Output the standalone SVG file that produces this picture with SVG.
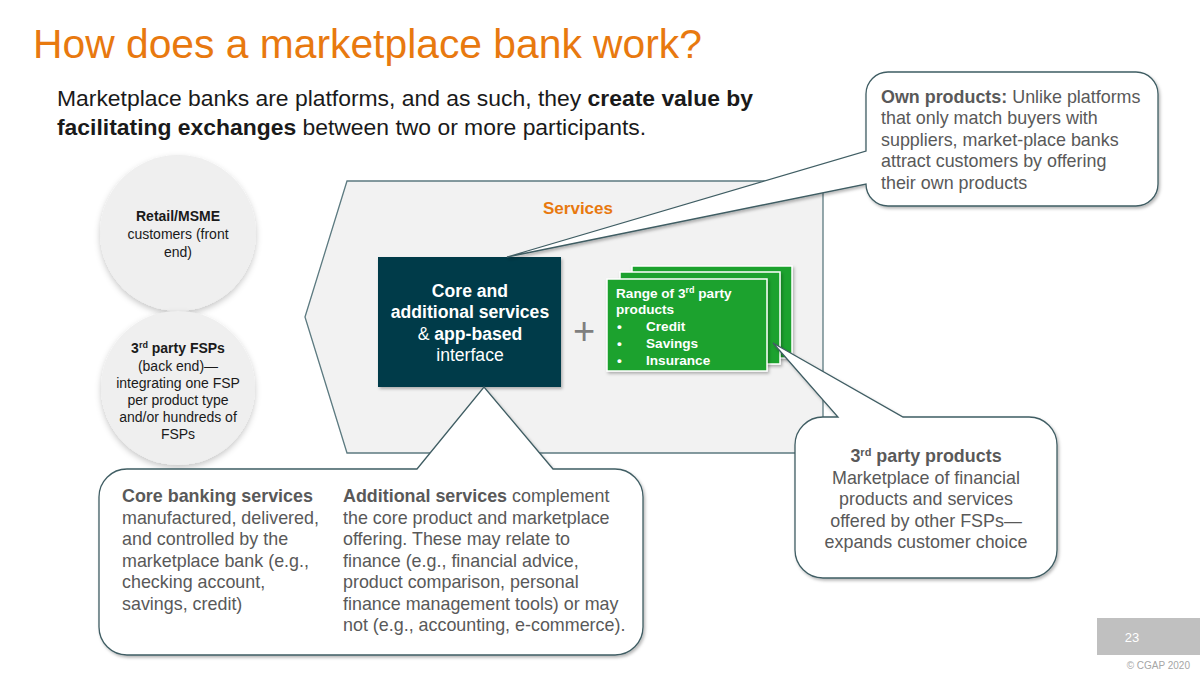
<svg xmlns="http://www.w3.org/2000/svg" width="1200" height="674" viewBox="0 0 1200 674">
<defs>
<filter id="sh" x="-10%" y="-10%" width="130%" height="130%">
<feDropShadow dx="1.5" dy="2" stdDeviation="1.8" flood-color="#000" flood-opacity="0.28"/>
</filter>
<filter id="shc" x="-15%" y="-15%" width="130%" height="135%">
<feDropShadow dx="0" dy="3" stdDeviation="3" flood-color="#000" flood-opacity="0.22"/>
</filter>
</defs>
<style>
text{font-family:"Liberation Sans",Arial,sans-serif}
.b{font-weight:bold}
.bub{fill:#ffffff;stroke:#3f5d63;stroke-width:1.3;stroke-linejoin:miter}
.bt{font-size:17.9px;fill:#595959}
.ct{font-size:14px;fill:#1a1a1a;text-anchor:middle}
.circ{fill:#efefef}
.card{fill:#1fa22f;stroke:#ffffff;stroke-width:1.5}
.gt{font-size:13.6px;fill:#ffffff;font-weight:bold}
.wt{font-size:17.6px;fill:#ffffff;text-anchor:middle}
</style>
<rect width="1200" height="674" fill="#ffffff"/>

<text x="33" y="58" font-size="40.8" fill="#e8790f">How does a marketplace bank work?</text>
<text x="57" y="106" font-size="22.9" fill="#1a1a1a">Marketplace banks are platforms, and as such, they <tspan class="b">create value by</tspan></text>
<text x="57" y="135" font-size="22.9" fill="#1a1a1a"><tspan class="b">facilitating exchanges</tspan> between two or more participants.</text>

<g id="services">
<polygon points="305,317 347,181 823,181 823,453 347,453" fill="#f2f2f2" stroke="#5c7a80" stroke-width="1.3"/>
<text x="578" y="214" font-size="17" class="b" fill="#e8790f" text-anchor="middle">Services</text>
</g>

<g id="customers">
<circle class="circ" cx="178" cy="233" r="78" filter="url(#shc)"/>
<text class="ct" x="178" y="221"><tspan class="b">Retail/MSME</tspan></text>
<text class="ct" x="178" y="239">customers (front</text>
<text class="ct" x="178" y="257">end)</text>
</g>

<g id="fsps">
<circle class="circ" cx="178" cy="388" r="77" filter="url(#shc)"/>
<text class="ct" x="178" y="353"><tspan class="b">3<tspan font-size="9" baseline-shift="super">rd</tspan> party FSPs</tspan></text>
<text class="ct" x="178" y="371">(back end)—</text>
<text class="ct" x="178" y="388">integrating one FSP</text>
<text class="ct" x="178" y="405">per product type</text>
<text class="ct" x="178" y="422">and/or hundreds of</text>
<text class="ct" x="178" y="439">FSPs</text>
</g>

<g id="core">
<rect x="378" y="257" width="183" height="130" fill="#023a48" filter="url(#sh)"/>
<text class="wt b" x="470" y="297">Core and</text>
<text class="wt b" x="470" y="318">additional services</text>
<text class="wt" x="470" y="340">&amp; <tspan class="b">app-based</tspan></text>
<text class="wt" x="470" y="361">interface</text>
</g>

<text x="584" y="344" font-size="38" fill="#7f7f7f" text-anchor="middle">+</text>

<g id="products">
<rect class="card" x="632" y="266" width="160" height="92" filter="url(#sh)"/>
<rect class="card" x="620" y="272" width="160" height="92" filter="url(#sh)"/>
<rect class="card" x="607" y="279" width="160" height="92" filter="url(#sh)"/>
<text class="gt" x="616" y="298">Range of 3<tspan font-size="9" baseline-shift="super">rd</tspan> party</text>
<text class="gt" x="616" y="314">products</text>
<text class="gt" x="617" y="331">•</text><text class="gt" x="646" y="331">Credit</text>
<text class="gt" x="617" y="348">•</text><text class="gt" x="646" y="348">Savings</text>
<text class="gt" x="617" y="365">•</text><text class="gt" x="646" y="365">Insurance</text>
</g>

<g id="connectors">
<path class="bub" filter="url(#sh)" d="M888 72 H1136 A22 22 0 0 1 1158 94 V184 A22 22 0 0 1 1136 206 H888 A22 22 0 0 1 866 184 L507 257 L866 151 V94 A22 22 0 0 1 888 72 Z"/>
<path class="bub" filter="url(#sh)" d="M823 417 H838 L773 343 L903 417 H1029 A28 28 0 0 1 1057 445 V550 A28 28 0 0 1 1029 578 H823 A28 28 0 0 1 795 550 V445 A28 28 0 0 1 823 417 Z"/>
<path class="bub" filter="url(#sh)" d="M127 469 H417 L484 387 L553 469 H615 A28 28 0 0 1 643 497 V627 A28 28 0 0 1 615 655 H127 A28 28 0 0 1 99 627 V497 A28 28 0 0 1 127 469 Z"/>
</g>

<g id="own-products">
<text class="bt" x="881" y="103"><tspan class="b">Own products:</tspan> Unlike platforms</text>
<text class="bt" x="881" y="124">that only match buyers with</text>
<text class="bt" x="881" y="146">suppliers, market-place banks</text>
<text class="bt" x="881" y="167">attract customers by offering</text>
<text class="bt" x="881" y="189">their own products</text>
</g>

<g id="third-party">
<text class="bt" x="926" y="462" text-anchor="middle"><tspan class="b">3<tspan font-size="11" baseline-shift="super">rd</tspan> party products</tspan></text>
<text class="bt" x="926" y="484" text-anchor="middle">Marketplace of financial</text>
<text class="bt" x="926" y="505" text-anchor="middle">products and services</text>
<text class="bt" x="926" y="527" text-anchor="middle">offered by other FSPs—</text>
<text class="bt" x="926" y="548" text-anchor="middle">expands customer choice</text>
</g>

<g id="core-services">
<text class="bt" x="122" y="502"><tspan class="b">Core banking services</tspan></text>
<text class="bt" x="122" y="524">manufactured, delivered,</text>
<text class="bt" x="122" y="545">and controlled by the</text>
<text class="bt" x="122" y="567">marketplace bank (e.g.,</text>
<text class="bt" x="122" y="588">checking account,</text>
<text class="bt" x="122" y="610">savings, credit)</text>
<text class="bt" x="343" y="502"><tspan class="b">Additional services</tspan> complement</text>
<text class="bt" x="343" y="524">the core product and marketplace</text>
<text class="bt" x="343" y="545">offering. These may relate to</text>
<text class="bt" x="343" y="567">finance (e.g., financial advice,</text>
<text class="bt" x="343" y="588">product comparison, personal</text>
<text class="bt" x="343" y="610">finance management tools) or may</text>
<text class="bt" x="343" y="631">not (e.g., accounting, e-commerce).</text>
</g>

<g id="footer">
<rect x="1097" y="618" width="103" height="37" fill="#c0c0c0"/>
<text x="1132" y="642" font-size="13" fill="#ffffff" text-anchor="middle">23</text>
<text x="1190" y="669" font-size="10" fill="#a6a6a6" text-anchor="end">© CGAP 2020</text>
</g>
</svg>
